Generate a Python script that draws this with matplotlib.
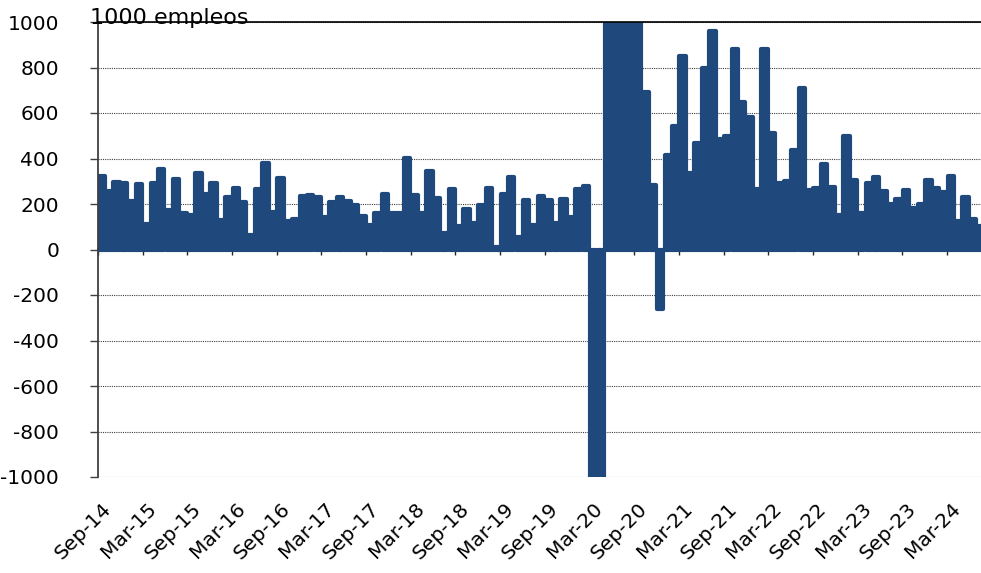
import pandas as pd
import matplotlib
matplotlib.use('Agg')
from matplotlib import pyplot as plt

######### data: monthly change, 1000 jobs (Sep-14 .. Jul-24)
meses = pd.date_range('2014-09-01', periods=119, freq='MS')
etiquetas_mes = [m.strftime('%b-%y') for m in meses]

empleos = [323, 257, 298, 294, 213, 287, 110, 294, 353, 173,
           310, 159, 151, 335, 243, 291, 129, 229, 269, 207,
           63, 265, 379, 166, 313, 125, 134, 235, 240, 229,
           144, 210, 229, 213, 196, 147, 107, 162, 243, 162,
           162, 401, 240, 162, 343, 225, 71, 265, 103, 178,
           115, 196, 272, 12, 243, 320, 56, 218, 106, 236,
           218, 118, 221, 142, 267, 277, -1400, -20500, 2700, 4600,
           1700, 1500, 1050, 691, 282, -261, 415, 543, 850, 337,
           469, 797, 959, 484, 499, 880, 649, 584, 267, 883,
           514, 292, 303, 437, 708, 263, 270, 377, 274, 151,
           498, 305, 161, 293, 317, 256, 202, 224, 261, 184,
           198, 305, 271, 254, 323, 124, 231, 136, 102]

y_ticks = list(range(-1000, 1001, 200))
x_label_pos = list(range(0, 119, 6))
x_labels = [etiquetas_mes[i] for i in x_label_pos]

azul = '#1F497D'

######## figure
plt.rcParams['font.family'] = ['DejaVu Sans']
plt.rcParams['axes.unicode_minus'] = False
fig = plt.figure(figsize=(9.81, 5.73), dpi=100)
ax = fig.add_axes([98/981, 1 - 477/573, 1 - 98/981, (477 - 22)/573])

x = list(range(len(empleos)))
# thick round-joined edge gives the rounded bar tops
bars = ax.bar(x, empleos, width=0.85, color=azul, edgecolor=azul, linewidth=3)
for b in bars:
    b.set_joinstyle('round')

ax.set_xlim(-0.5, -0.5 + (981 - 98)/7.447)
ax.set_ylim(-1000, 1000)

# y axis
ax.set_yticks(y_ticks)
ax.tick_params(axis='y', direction='out', length=6, width=1, color='#404040',
               labelsize=14.5, pad=22)
ax.yaxis.grid(True, linestyle=(0, (1, 1)), color='#404040', linewidth=0.8)
ax.set_axisbelow(True)

# x labels below the plot, no ticks
ax.set_xticks(x_label_pos)
ax.set_xticklabels(x_labels, rotation=45, ha='right', va='top', rotation_mode='anchor')
ax.tick_params(axis='x', length=0, labelsize=14.5, pad=16)

ax.spines['right'].set_visible(False)
ax.spines['bottom'].set_visible(False)
ax.spines['left'].set_color('#404040')
ax.spines['left'].set_linewidth(1.3)
ax.spines['top'].set_color('black')
ax.spines['top'].set_linewidth(1.2)

# axis line at zero with tick marks every 6 months
sec = ax.secondary_xaxis(0.5)
sec.set_xticks([i - 0.5 for i in x_label_pos])
sec.set_xticklabels([])
sec.tick_params(axis='x', direction='in', length=4, width=1, color='#262626')
sec.spines['top'].set_color('#262626')
sec.spines['top'].set_linewidth(1.3)

fig.text(90/981, 1 - 23.5/573, '1000 empleos', fontsize=16, ha='left', va='baseline')

fig.savefig('out.png', dpi=100)
